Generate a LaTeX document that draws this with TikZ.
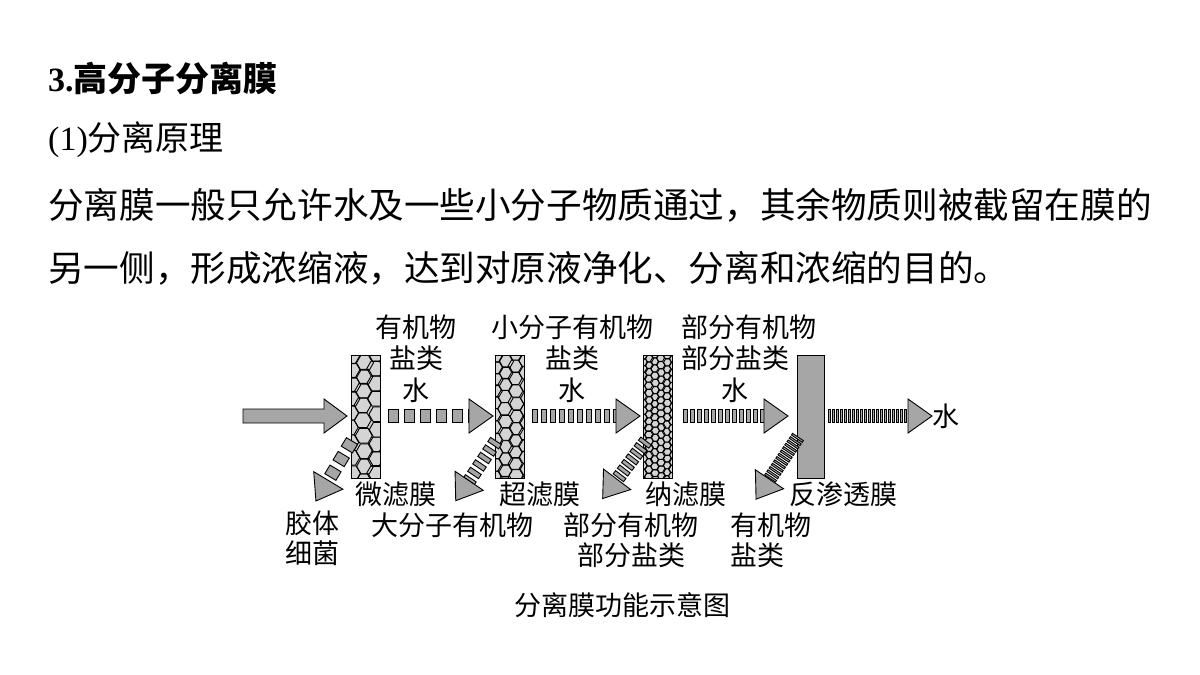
\documentclass[tikz,border=0pt]{standalone}
\usepackage{fontspec}
\setmainfont{Liberation Serif}
\newfontfamily\cjk{Noto Sans CJK SC}
\begin{document}
\begin{tikzpicture}[x=1pt,y=-1pt,
  lab/.style={font=\cjk\fontsize{27}{27}\selectfont,inner sep=0pt},
  body/.style={font=\cjk\fontsize{35.6}{35.6}\selectfont,anchor=west,inner sep=0pt},
  afill/.style={fill=black!35,draw=black,line width=0.9pt}]
\useasboundingbox (0,0) rectangle (1200,675);
\node[anchor=west,inner sep=0pt,font=\fontsize{34}{34}\selectfont\bfseries] (t1) at (48,78) {3.{\cjk 高分子分离膜}};
\node[anchor=west,inner sep=0pt,font=\fontsize{34}{34}\selectfont] (t2) at (48,140) {(1){\cjk 分离原理}};
\node[body] (l1) at (48,205) {分离膜一般只允许水及一些小分子物质通过，其余物质则被截留在膜的};
\node[body] (l2) at (48,268) {另一侧，形成浓缩液，达到对原液净化、分离和浓缩的目的。};
% membrane macro
\newcommand\memb[5]{%
 \fill[black!17] (#1,#2) rectangle (#1+#3,#2+#4);
 \begin{scope}
 \clip (#1,#2) rectangle (#1+#3,#2+#4);
 \pgfmathsetmacro\rr{#5}
 \pgfmathtruncatemacro\nx{#3/(1.5*#5)+2}
 \pgfmathtruncatemacro\ny{#4/(1.732*#5)+2}
 \foreach \i in {0,...,\nx}{\foreach \j in {0,...,\ny}{
   \pgfmathsetmacro\cx{#1+\i*1.5*\rr+0.15*\rr*sin(97*\i+53*\j)}
   \pgfmathsetmacro\cy{#2+(\j+0.5*mod(\i,2))*1.732*\rr+0.15*\rr*cos(71*\i+37*\j)}
   \draw[line width=0.9pt] (\cx,\cy) +(0:\rr) -- +(60:\rr) -- +(120:\rr) -- +(180:\rr) -- +(240:\rr) -- +(300:\rr) -- cycle;
 }}
 \end{scope}
 \draw[line width=1pt] (#1,#2) rectangle (#1+#3,#2+#4);}
% arrow macro: x y angle length dash gap halfwidth
\newcommand\darr[7]{%
 \begin{scope}[shift={(#1,#2)},rotate=#3]
 \pgfmathsetmacro\sl{#4-24}
 \pgfmathsetmacro\per{#5+#6}
 \foreach \s in {0,\per,...,\sl}{
   \pgfmathsetmacro\se{min(\s+#5,\sl)}
   \filldraw[afill] (\s,-#7) rectangle (\se,#7);}
 \filldraw[afill] (\sl,-#7) -- (\sl,-17) -- (#4,0) -- (\sl,17) -- (\sl,#7) -- cycle;
 \end{scope}}
\memb{351}{355}{29}{123}{8.5}
\memb{495}{355}{29}{123}{7}
\memb{643}{355}{29}{123}{4}
\filldraw[fill=black!35,line width=1pt] (797,355) rectangle (824,478);
% input arrow
\filldraw[afill] (243,409) -- (324,409) -- (324,399) -- (347,416) -- (324,433) -- (324,423) -- (243,423) -- cycle;
\darr{388}{416}{0}{105}{10}{6}{6.5}
\darr{532}{416}{0}{108}{5}{4}{6.5}
\darr{683}{416}{0}{105}{4}{3}{6.5}
\darr{828}{416}{0}{104}{2}{2}{6.5}
\darr{352}{441}{239}{70}{10}{6}{6.5}
\darr{496}{441}{236}{72}{5}{4}{6.5}
\darr{646}{441}{233}{72}{4}{3}{6.5}
\darr{798}{437}{236}{75}{2}{2}{6.5}
\node[lab] (w) at (946,416) {水};
\node[lab] (a1) at (416,327) {有机物};
\node[lab] (a2) at (416,358) {盐类};
\node[lab] (a3) at (416,390) {水};
\node[lab] (b1) at (572,327) {小分子有机物};
\node[lab] (b2) at (572,358) {盐类};
\node[lab] (b3) at (572,390) {水};
\node[lab] (c1) at (749,327) {部分有机物};
\node[lab] (c2) at (735,358) {部分盐类};
\node[lab] (c3) at (735,390) {水};
\node[lab] (n1) at (396,494) {微滤膜};
\node[lab] (n2) at (540,494) {超滤膜};
\node[lab] (n3) at (686,494) {纳滤膜};
\node[lab] (n4) at (843,494) {反渗透膜};
\node[lab] (d1) at (312,523) {胶体};
\node[lab] (d2) at (312,553) {细菌};
\node[lab] (e1) at (452,525) {大分子有机物};
\node[lab] (f1) at (631,525) {部分有机物};
\node[lab] (f2) at (631,555) {部分盐类};
\node[lab] (g1) at (771,525) {有机物};
\node[lab] (g2) at (757,555) {盐类};
\node[lab] (cap) at (622,605) {分离膜功能示意图};
\end{tikzpicture}
\end{document}
